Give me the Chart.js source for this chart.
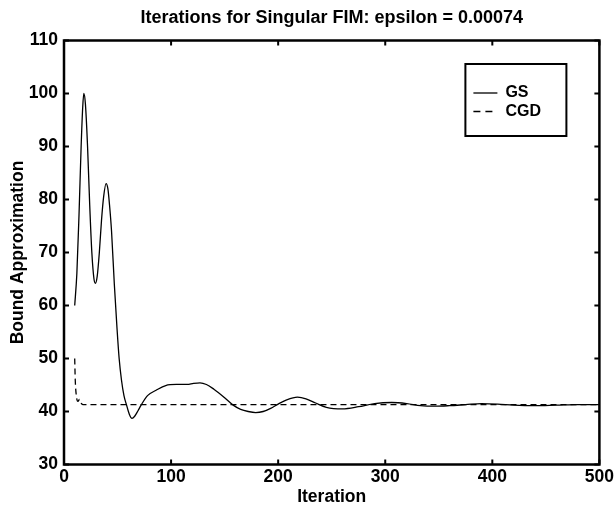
<!DOCTYPE html>
<html>
<head>
<meta charset="utf-8">
<script src="https://cdn.jsdelivr.net/npm/chart.js@4.4.1/dist/chart.umd.min.js"></script>
<style>
  html, body { margin: 0; padding: 0; background: #fff; }
  canvas { display: block; }
</style>
</head>
<body>
<canvas id="chart" width="616" height="506"></canvas>
<script>
// values
const gsIter = [10, 12, 14, 16, 17.5, 18.5, 20, 22, 24, 26, 28, 29.3, 31, 33, 35, 37, 39.3, 41, 42.5, 44.4,
  47, 49.5, 51.5, 53.7, 56, 58.3, 61, 63.5, 66, 69, 72, 78, 86, 95, 105, 115, 121, 127, 133, 140,
  150, 158, 165, 172, 179, 186, 193, 200, 208, 218, 226, 235, 245, 260, 275, 290, 306, 320, 333, 347,
  360, 375, 390, 405, 420, 440, 460, 480, 500];
const gsBound = [60, 66, 77, 90, 97.5, 100, 98, 90, 79, 70, 65, 64.2, 65.5, 70, 76, 80.5, 83, 82, 79, 74,
  64, 55.7, 50, 45.9, 43, 41.3, 39.5, 38.7, 39.1, 40.1, 41.2, 43, 44, 44.9, 45.1, 45.1, 45.3, 45.4, 45.1, 44.2,
  42.6, 41.2, 40.4, 40, 39.8, 40, 40.6, 41.4, 42.2, 42.7, 42.4, 41.6, 40.8, 40.5, 40.9, 41.5, 41.7, 41.5, 41.1, 41.0,
  41.1, 41.3, 41.5, 41.4, 41.2, 41.1, 41.2, 41.3, 41.3];

const cgdIter  = [10, 10.5, 11.5, 13, 14.5, 16, 18, 22, 50, 100, 200, 300, 400, 500];
const cgdBound = [50, 46, 43, 41.9, 42.3, 41.6, 41.3, 41.3, 41.3, 41.3, 41.3, 41.3, 41.3, 41.3];

const xTicks = [0, 100, 200, 300, 400, 500];
const yTicks = [30, 40, 50, 60, 70, 80, 90, 100, 110];

const FONT = 'Liberation Sans, Arial, Helvetica, sans-serif';

const toPts = (xs, ys) => xs.map((x, i) => ({ x, y: ys[i] }));

// box round the plot + ticks pointing inwards, like the old matlab look
const frame = {
  id: 'frame',
  afterDraw(chart) {
    const { ctx, chartArea: a, scales: { x, y } } = chart;
    ctx.save();
    ctx.strokeStyle = '#000';
    ctx.lineWidth = 2;
    ctx.beginPath();
    x.ticks.forEach(t => {
      const px = x.getPixelForValue(t.value);
      ctx.moveTo(px, a.bottom); ctx.lineTo(px, a.bottom - 5);
      ctx.moveTo(px, a.top);    ctx.lineTo(px, a.top + 5);
    });
    y.ticks.forEach(t => {
      const py = y.getPixelForValue(t.value);
      ctx.moveTo(a.left, py);  ctx.lineTo(a.left + 5, py);
      ctx.moveTo(a.right, py); ctx.lineTo(a.right - 5, py);
    });
    ctx.stroke();
    ctx.lineWidth = 2.5;
    ctx.strokeRect(a.left, a.top, a.width, a.height);

    // legend box, top right inside the plot
    const bx = a.right - 134, by = a.top + 23.5, bw = 101, bh = 72;
    ctx.fillStyle = '#fff';
    ctx.fillRect(bx, by, bw, bh);
    ctx.lineWidth = 2;
    ctx.strokeRect(bx, by, bw, bh);
    ctx.font = `bold 16px ${FONT}`;
    ctx.textBaseline = 'middle';
    chart.data.datasets.forEach((ds, i) => {
      const ly = by + 29 + i * 18.5;
      ctx.beginPath();
      ctx.setLineDash(ds.borderDash ? [7, 5] : []);
      ctx.lineWidth = ds.borderWidth;
      ctx.strokeStyle = ds.borderColor;
      ctx.moveTo(bx + 8, ly); ctx.lineTo(bx + 32, ly);
      ctx.stroke();
      ctx.setLineDash([]);
      ctx.fillStyle = '#000';
      ctx.fillText(ds.label, bx + 40, ly);
    });
    ctx.restore();
  }
};

new Chart(document.getElementById('chart'), {
  type: 'line',
  data: {
    datasets: [
      { label: 'GS',  data: toPts(gsIter, gsBound),   borderColor: '#000', borderWidth: 1.3,
        pointRadius: 0, cubicInterpolationMode: 'monotone', fill: false },
      { label: 'CGD', data: toPts(cgdIter, cgdBound), borderColor: '#000', borderWidth: 1.3,
        borderDash: [6, 4], pointRadius: 0, cubicInterpolationMode: 'monotone', fill: false },
    ]
  },
  options: {
    responsive: false,
    animation: false,
    layout: { padding: { top: 0, right: 15, bottom: 0, left: 0 } },
    plugins: {
      legend: { display: false },
      tooltip: { enabled: false },
      title: {
        display: true,
        text: 'Iterations for Singular FIM: epsilon = 0.00074',
        color: '#000',
        fullSize: false,
        font: { family: FONT, size: 18, weight: 'bold', lineHeight: 1 },
        padding: { top: 9.5, bottom: 13 }
      }
    },
    scales: {
      x: {
        type: 'linear', min: 0, max: 500,
        afterBuildTicks: s => { s.ticks = xTicks.map(v => ({ value: v })); },
        afterFit: s => { s.height = 41.5; },
        grid: { display: false, drawTicks: false },
        border: { display: false },
        ticks: { color: '#000', padding: 2, maxRotation: 0, font: { family: FONT, size: 17.5, weight: 'bold' } },
        title: { display: true, text: 'Iteration', color: '#000', padding: { top: 0, bottom: 0 },
                 font: { family: FONT, size: 17.5, weight: 'bold', lineHeight: 1 } }
      },
      y: {
        type: 'linear', min: 30, max: 110,
        afterBuildTicks: s => { s.ticks = yTicks.map(v => ({ value: v })); },
        afterFit: s => { s.width = 64; },
        grid: { display: false, drawTicks: false },
        border: { display: false },
        ticks: { color: '#000', padding: 6, font: { family: FONT, size: 17.5, weight: 'bold' } },
        title: { display: true, text: 'Bound Approximation', color: '#000', padding: { top: 9, bottom: 0 },
                 font: { family: FONT, size: 17.5, weight: 'bold', lineHeight: 1 } }
      }
    }
  },
  plugins: [frame]
});
</script>
</body>
</html>
